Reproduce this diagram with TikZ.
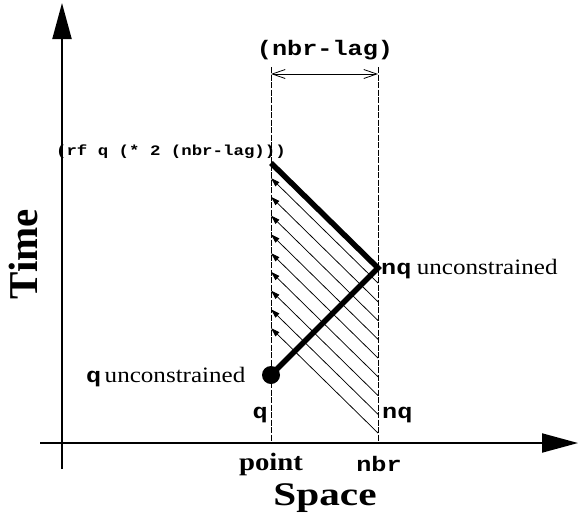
\documentclass[tikz,border=0pt]{standalone}
\usepackage{fontspec}
\setmainfont{Liberation Serif}
\setmonofont{Liberation Mono}
\usetikzlibrary{arrows.meta}
\newcommand{\wx}[2][1.25]{\scalebox{#1}[1]{#2}}
\begin{document}
\begin{tikzpicture}[x=1pt,y=1pt,
  axis/.style={line width=2pt, -{Triangle[length=36pt,width=19pt]}},
  guide/.style={line width=0.9pt, dash pattern=on 6pt off 1.5pt},
  bound/.style={line width=5.5pt, miter limit=10},
  hatch/.style={line width=0.75pt, -{Triangle[length=9pt,width=5.5pt]}},
  dimarrow/.style={line width=0.8pt, {Straight Barb[length=13pt,width=9pt]}-{Straight Barb[length=13pt,width=9pt]}},
  ttl/.style={font=\ttfamily\bfseries\fontsize{21}{25}\selectfont, inner sep=0pt},
  ttsmall/.style={font=\ttfamily\bfseries\fontsize{14.5}{17}\selectfont, inner sep=0pt},
  rml/.style={font=\fontsize{22}{26}\selectfont, inner sep=0pt},
  bfl/.style={font=\bfseries\fontsize{25}{30}\selectfont, inner sep=0pt},
  big/.style={font=\bfseries\fontsize{33}{40}\selectfont, inner sep=0pt},
  bigger/.style={font=\bfseries\fontsize{41}{48}\selectfont, inner sep=0pt},
]
\useasboundingbox (0,0) rectangle (578,-523);
% axes
\coordinate (xs) at (40,-443);
\coordinate (xe) at (578,-443);
\coordinate (ys) at (62,-469);
\coordinate (ye) at (62,-3);
\draw[axis] (xs) -- (xe);
\draw[axis] (ys) -- (ye);
% dashed guides
\coordinate (pt) at (271,-67);
\coordinate (pb) at (271,-443);
\coordinate (nt) at (378,-67);
\coordinate (nb) at (378,-443);
\draw[guide] (pt) -- (pb);
\draw[guide] (nt) -- (nb);
% dimension arrow
\coordinate (dl) at (271,-74);
\coordinate (dr) at (378,-74);
\draw[dimarrow] (dl) -- (dr);
% hatch arrows
\foreach \k in {0,...,8}{
  \draw[hatch] (378,{-283-18.75*\k}) -- (271,{-178-18.75*\k});
}
% thick boundary
\coordinate (top) at (271,-163);
\coordinate (mid) at (378,-268);
\coordinate (dot) at (271,-375);
\draw[bound] (top) -- (mid) -- (dot);
\fill (dot) circle (9);
% labels
\node[ttl] (lag) at (325,-50) {\wx[1.2]{(nbr-lag)}};
\node[ttsmall, anchor=east] (rf) at (286,-152) {\wx[1.2]{(rf q (* 2 (nbr-lag)))}};
\node[ttl, anchor=base west] (nqu) at (381,-274) {\wx[1.2]{nq}};
\node[rml, anchor=base west] (u1) at ([xshift=5pt]nqu.base east) {\wx[1.14]{unconstrained}};
\node[ttl, anchor=base west] (qu) at (86,-382) {\wx[1.2]{q}};
\node[rml, anchor=base west] (u2) at ([xshift=3pt]qu.base east) {\wx[1.14]{unconstrained}};
\node[ttl, anchor=base east] (ql) at (268,-418) {\wx[1.2]{q}};
\node[ttl, anchor=base west] (nql) at (382,-418) {\wx[1.2]{nq}};
\node[bfl, anchor=base] (point) at (271,-470) {\wx[1.15]{point}};
\node[ttl, anchor=base] (nbr) at (379,-471) {\wx[1.2]{nbr}};
\node[big, anchor=base] (space) at (325,-505) {\wx{Space}};
\node[bigger, rotate=90, anchor=base] (time) at (37,-254) {Time};
\end{tikzpicture}
\end{document}
